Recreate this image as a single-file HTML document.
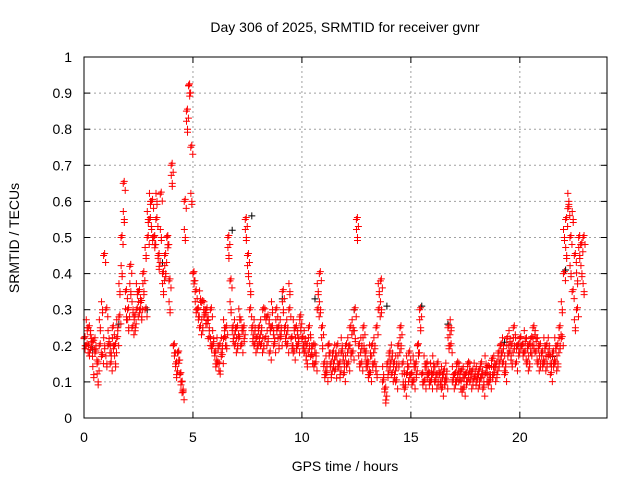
<!DOCTYPE html>
<html><head><meta charset="utf-8"><style>
body{margin:0;background:#fff}
svg{display:block;font-family:"Liberation Sans",sans-serif;font-size:14px}
</style></head><body>
<svg id="chart" width="640" height="480" viewBox="0 0 640 480" xmlns="http://www.w3.org/2000/svg">
<text x="345" y="32" text-anchor="middle">Day 306 of 2025, SRMTID for receiver gvnr</text>
<text transform="translate(19,238) rotate(-90)" text-anchor="middle">SRMTID / TECUs</text>
<text x="345" y="471" text-anchor="middle">GPS time / hours</text>
<g id="grid"></g>
<g id="axes"></g>
<g id="marksB"></g>
<g id="marks"></g>
<rect x="84" y="57" width="523" height="361" fill="none" stroke="#000" stroke-width="1"/>
</svg>
<script>
const xTicks=[0,5,10,15,20];
const yTicks=[0,0.1,0.2,0.3,0.4,0.5,0.6,0.7,0.8,0.9,1];
const yTickLabels=["0","0.1","0.2","0.3","0.4","0.5","0.6","0.7","0.8","0.9","1"];
const seriesA=[
.22,.2,.25,.19,.21,.18,.15,.2,.17,.45,
.3,.2,.15,.25,.2,.22,.28,.5,.65,.35,
.3,.42,.25,.28,.3,.35,.32,.4,.3,.5,
.55,.6,.5,.55,.45,.62,.4,.45,.5,.38,
.7,.2,.15,.18,.12,.07,.6,.85,.92,.75,
.4,.35,.3,.25,.32,.28,.3,.22,.3,.2,
.18,.15,.2,.17,.22,.25,.5,.38,.25,.2,
.25,.22,.2,.25,.55,.45,.3,.25,.2,.22,
.25,.2,.3,.22,.28,.18,.25,.2,.3,.25,
.22,.35,.25,.2,.3,.22,.18,.25,.2,.28,
.22,.18,.2,.25,.17,.2,.15,.3,.4,.25,
.15,.12,.2,.15,.18,.13,.2,.15,.18,.12,
.2,.15,.25,.18,.3,.55,.2,.15,.25,.18,
.15,.12,.2,.15,.25,.3,.38,.1,.08,.15,
.18,.12,.15,.1,.2,.25,.15,.08,.12,.18,
.12,.1,.15,.2,.3,.12,.1,.15,.12,.1,
.12,.1,.15,.12,.08,.13,.1,.25,.2,.1,
.12,.15,.1,.13,.08,.12,.15,.1,.13,.11,
.1,.13,.15,.08,.12,.14,.1,.16,.12,.15,
.18,.2,.15,.12,.22,.18,.2,.25,.15,.2,
.22,.2,.18,.15,.2,.22,.25,.18,.15,.2,
.18,.15,.2,.17,.12,.18,.15,.2,.25,.22,
.4,.55,.58,.5,.35,.45,.3,.5,.48,.5];
const seriesB=[
.2,.25,.18,.22,.12,.2,.1,.25,.3,.2,
.15,.22,.18,.2,.15,.25,.35,.4,.55,.28,
.25,.35,.3,.25,.35,.3,.28,.35,.45,.55,
.6,.5,.48,.6,.42,.5,.35,.4,.48,.3,
.65,.18,.12,.16,.1,.08,.5,.8,.9,.6,
.38,.3,.28,.33,.25,.3,.27,.25,.2,.22,
.15,.2,.13,.2,.25,.2,.45,.3,.22,.25,
.2,.28,.25,.22,.5,.4,.35,.22,.25,.2,
.22,.25,.2,.28,.22,.25,.3,.22,.25,.2,
.25,.3,.22,.25,.35,.2,.25,.2,.22,.25,
.2,.22,.15,.2,.2,.15,.18,.35,.3,.2,
.12,.15,.18,.12,.15,.18,.15,.12,.2,.15,
.15,.2,.18,.25,.22,.5,.15,.2,.2,.15,
.12,.18,.15,.2,.12,.35,.3,.12,.05,.12,
.15,.18,.12,.15,.15,.2,.1,.1,.15,.12,
.1,.15,.12,.18,.25,.1,.15,.12,.1,.13,
.15,.12,.1,.1,.12,.1,.13,.2,.25,.12,
.1,.12,.13,.08,.12,.1,.12,.13,.1,.13,
.12,.1,.12,.1,.15,.1,.12,.12,.15,.12,
.15,.18,.2,.15,.18,.22,.15,.2,.2,.18,
.2,.18,.22,.2,.15,.18,.2,.22,.2,.15,
.15,.2,.15,.2,.15,.15,.2,.15,.2,.3,
.5,.45,.6,.4,.55,.25,.38,.45,.4,.35];
const blackX=[0.4,1.6,2.9,3.6,4.3,6.8,7.7,9.1,10.6,12.4,13.9,15.5,16.7,19.3,21.5,22.1];
const blackY=[0.19,0.26,0.3,0.43,0.18,0.52,0.56,0.33,0.33,0.3,0.31,0.31,0.26,0.21,0.17,0.41];
const NS="http://www.w3.org/2000/svg";
const X0=84,X1=607,Y0=418,Y1=57,XMAX=24;
function sx(v){return X0+v/XMAX*(X1-X0);}
function sy(v){return Y0-v*(Y0-Y1);}
const grid=document.getElementById('grid'),axes=document.getElementById('axes');
function mk(tag,attrs,parent){const e=document.createElementNS(NS,tag);for(const k in attrs)e.setAttribute(k,attrs[k]);parent.appendChild(e);return e;}
yTicks.forEach((t,i)=>{
  const y=sy(t);
  if(i>0&&i<yTicks.length-1){const g=mk('line',{x1:X0,x2:X1,y1:y,y2:y,stroke:'#a0a0a0','stroke-dasharray':'2,3'},grid);
  
  }
  mk('line',{x1:X0,x2:X0+6,y1:y,y2:y,stroke:'#000'},axes);
  mk('line',{x1:X1,x2:X1-6,y1:y,y2:y,stroke:'#000'},axes);
  const l=mk('text',{x:X0-12,y:y+5,'text-anchor':'end'},axes);l.textContent=yTickLabels[i];
  
  
});
xTicks.forEach(t=>{
  const x=sx(t);
  if(t>0){const g=mk('line',{x1:x,x2:x,y1:Y0,y2:Y1,stroke:'#a0a0a0','stroke-dasharray':'2,3'},grid);
  
  }
  mk('line',{x1:x,x2:x,y1:Y0,y2:Y0-6,stroke:'#000'},axes);
  mk('line',{x1:x,x2:x,y1:Y1,y2:Y1+6,stroke:'#000'},axes);
  const l=mk('text',{x:x,y:Y0+24,'text-anchor':'middle'},axes);l.textContent=String(t);
  
  
});
function plus(x,y,color,parent,name){
  const p=mk('path',{d:`M${x-3.5},${y}h7M${x},${y-3.5}v7`,stroke:color,'stroke-width':1,fill:'none'},parent);
  
  
}
const mb=document.getElementById('marksB'),mr=document.getElementById('marks');
blackX.forEach((h,i)=>plus(sx(h),sy(blackY[i]),'#000',mb,'black-point'));
seriesA.forEach((v,i)=>{const x=sx(i*0.1),y=sy(v);
  plus(x,y,'#ff0000',mr,'red-point');plus(x+1,y-2,'#ff0000',mr,'red-point');plus(x+2,y+7,'#ff0000',mr,'red-point');});
seriesB.forEach((v,i)=>{const x=sx(i*0.1+0.05),y=sy(v);
  plus(x,y,'#ff0000',mr,'red-point');plus(x,y+3,'#ff0000',mr,'red-point');plus(x-1,y-8,'#ff0000',mr,'red-point');});
</script>
</body></html>
